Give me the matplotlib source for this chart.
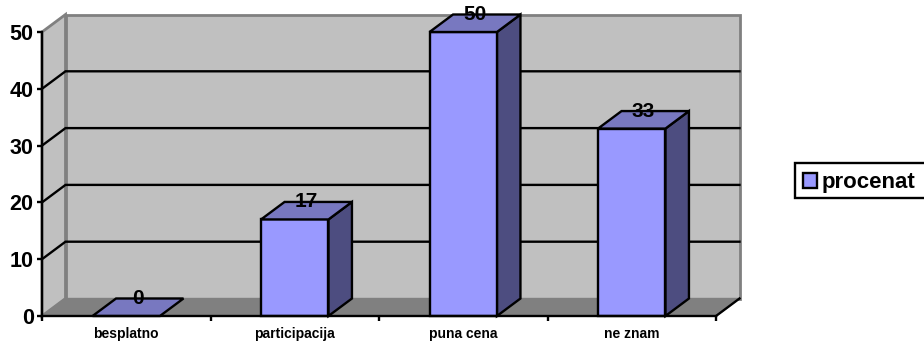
import matplotlib
matplotlib.use("Agg")
import matplotlib.pyplot as plt
from matplotlib.patches import Polygon, Patch, Rectangle

categories = ["besplatno", "participacija", "puna cena", "ne znam"]
values = [0, 17, 50, 33]
yticks = [0, 10, 20, 30, 40, 50]
series_name = "procenat"

plt.rcParams["font.family"] = ["Liberation Sans", "DejaVu Sans"]
W, H = 924, 341
fig = plt.figure(figsize=(W / 100, H / 100), dpi=100)
ax = fig.add_axes([42 / W, 1 - 316 / H, 674 / W, 284 / H])
ax.set_xlim(0, 4)
ax.set_ylim(0, 50)
ax.patch.set_visible(False)
for s in ["top", "right"]:
    ax.spines[s].set_visible(False)
for s in ["left", "bottom"]:
    ax.spines[s].set_linewidth(1.7)
    ax.spines[s].set_color("black")
    ax.spines[s].set_zorder(6)

dx = 23.5 / 168.5   # depth in category units
dy = 17.5 / 5.68    # depth in value units
bar_w = 0.4
lw = 1.7

def poly(pts, fc, ec="none", z=1, lw_=lw):
    p = Polygon(pts, closed=True, facecolor=fc, edgecolor=ec, linewidth=lw_,
                zorder=z, clip_on=False, joinstyle="miter")
    ax.add_patch(p)

top = yticks[-1]
# back wall, side wall, floor
poly([(dx, dy), (4 + dx, dy), (4 + dx, top + dy), (dx, top + dy)], "#c0c0c0", "#808080", 1, 2)
poly([(0, 0), (dx, dy), (dx, top + dy), (0, top)], "#c0c0c0", "#808080", 1, 2)
poly([(0, 0), (dx, dy), (4 + dx, dy), (4, 0)], "#808080", "#808080", 1.5, 1)

# gridlines
for t in yticks[1:-1]:
    ax.plot([0, dx, 4 + dx], [t, t + dy, t + dy], color="black", lw=1.7, zorder=2,
            clip_on=False, solid_joinstyle="miter")
ax.plot([4, 4 + dx], [0, dy], color="black", lw=1.7, zorder=6, clip_on=False)

# bars
for i, v in enumerate(values):
    c = i + 0.5
    x0, x1 = c - bar_w / 2, c + bar_w / 2
    z = 3 + i * 0.1
    if v > 0:
        poly([(x1, 0), (x1 + dx, dy), (x1 + dx, v + dy), (x1, v)], "#4d4d80", "black", z)
        poly([(x0, 0), (x1, 0), (x1, v), (x0, v)], "#9999ff", "black", z)
    poly([(x0, v), (x1, v), (x1 + dx, v + dy), (x0 + dx, v + dy)], "#7878c0", "black", z)
    ax.text(c + dx / 2, v + dy, str(v), ha="center", va="center", fontsize=15,
            fontweight="bold", color="black", zorder=8)

ax.set_yticks(yticks)
ax.set_yticklabels([str(t) for t in yticks], fontsize=15.5, fontweight="bold")
ax.set_xticks(range(5))
ax.set_xticklabels([""] * 5)
ax.set_xticks([i + 0.5 for i in range(4)], minor=True)
ax.set_xticklabels(categories, minor=True, fontsize=10, fontweight="bold")
ax.tick_params(axis="x", which="minor", length=0, pad=7.8)
ax.tick_params(axis="both", which="major", length=3.5, width=1.7, color="black", pad=2.5)

# legend frame runs past the right edge of the figure, as in the reference
fig.add_artist(Rectangle((795 / W, 1 - 198 / H), 140 / W, 35 / H, transform=fig.transFigure,
                         facecolor="white", edgecolor="black", linewidth=1.7))
handle = Patch(facecolor="#9999ff", edgecolor="black", linewidth=1.7, label=series_name)
fig.legend(handles=[handle], loc="upper left",
           bbox_to_anchor=(796 / W, 1 - 165 / H), bbox_transform=fig.transFigure,
           frameon=False, prop={"weight": "bold", "size": 16},
           handlelength=0.62, handleheight=0.62,
           handletextpad=0.22, borderpad=0.33, borderaxespad=0, labelspacing=0)

fig.savefig("out.png", dpi=100, facecolor="white")
